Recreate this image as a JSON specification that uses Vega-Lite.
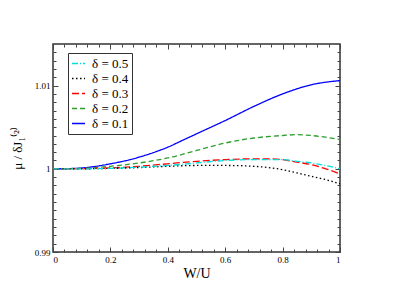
{
  "$schema": "https://vega.github.io/schema/vega-lite/v6.json",
  "width": 287,
  "height": 208,
  "autosize": "none",
  "padding": {"left": 53, "top": 44, "right": 67, "bottom": 36},
  "background": "white",
  "config": {
    "view": {"stroke": "#333333", "strokeWidth": 1.5},
    "font": "Liberation Serif",
    "axis": {"labelFont": "Liberation Serif", "titleFont": "Liberation Serif", "labelColor": "#000", "titleColor": "#000", "tickColor": "#444", "domain": false, "grid": false, "titleFontWeight": "normal"}
  },
  "data": {"values": [
    {"x": 0, "y": 1.0, "d": "δ = 0.1"},
    {"x": 0.05, "y": 1.00002, "d": "δ = 0.1"},
    {"x": 0.1, "y": 1.0001, "d": "δ = 0.1"},
    {"x": 0.15, "y": 1.0003, "d": "δ = 0.1"},
    {"x": 0.2, "y": 1.0006, "d": "δ = 0.1"},
    {"x": 0.25, "y": 1.00095, "d": "δ = 0.1"},
    {"x": 0.3, "y": 1.0014, "d": "δ = 0.1"},
    {"x": 0.35, "y": 1.00195, "d": "δ = 0.1"},
    {"x": 0.4, "y": 1.0026, "d": "δ = 0.1"},
    {"x": 0.45, "y": 1.0034, "d": "δ = 0.1"},
    {"x": 0.5, "y": 1.0042, "d": "δ = 0.1"},
    {"x": 0.6, "y": 1.0058, "d": "δ = 0.1"},
    {"x": 0.7, "y": 1.0075, "d": "δ = 0.1"},
    {"x": 0.8, "y": 1.009, "d": "δ = 0.1"},
    {"x": 0.9, "y": 1.0101, "d": "δ = 0.1"},
    {"x": 1.0, "y": 1.0106, "d": "δ = 0.1"},
    {"x": 0, "y": 1.0, "d": "δ = 0.2"},
    {"x": 0.1, "y": 1.00005, "d": "δ = 0.2"},
    {"x": 0.2, "y": 1.0003, "d": "δ = 0.2"},
    {"x": 0.3, "y": 1.0007, "d": "δ = 0.2"},
    {"x": 0.4, "y": 1.0013, "d": "δ = 0.2"},
    {"x": 0.5, "y": 1.0022, "d": "δ = 0.2"},
    {"x": 0.6, "y": 1.0031, "d": "δ = 0.2"},
    {"x": 0.7, "y": 1.0037, "d": "δ = 0.2"},
    {"x": 0.8, "y": 1.004, "d": "δ = 0.2"},
    {"x": 0.85, "y": 1.0041, "d": "δ = 0.2"},
    {"x": 0.9, "y": 1.004, "d": "δ = 0.2"},
    {"x": 0.95, "y": 1.0038, "d": "δ = 0.2"},
    {"x": 1.0, "y": 1.0035, "d": "δ = 0.2"},
    {"x": 0, "y": 1.0, "d": "δ = 0.3"},
    {"x": 0.1, "y": 1.00002, "d": "δ = 0.3"},
    {"x": 0.2, "y": 1.0001, "d": "δ = 0.3"},
    {"x": 0.3, "y": 1.0003, "d": "δ = 0.3"},
    {"x": 0.4, "y": 1.0006, "d": "δ = 0.3"},
    {"x": 0.5, "y": 1.0009, "d": "δ = 0.3"},
    {"x": 0.6, "y": 1.0011, "d": "δ = 0.3"},
    {"x": 0.7, "y": 1.0012, "d": "δ = 0.3"},
    {"x": 0.75, "y": 1.0012, "d": "δ = 0.3"},
    {"x": 0.8, "y": 1.0011, "d": "δ = 0.3"},
    {"x": 0.85, "y": 1.0008, "d": "δ = 0.3"},
    {"x": 0.9, "y": 1.0005, "d": "δ = 0.3"},
    {"x": 0.95, "y": 1.0, "d": "δ = 0.3"},
    {"x": 1.0, "y": 0.9994, "d": "δ = 0.3"},
    {"x": 0, "y": 1.0, "d": "δ = 0.4"},
    {"x": 0.1, "y": 1.0, "d": "δ = 0.4"},
    {"x": 0.2, "y": 1.00005, "d": "δ = 0.4"},
    {"x": 0.3, "y": 1.00015, "d": "δ = 0.4"},
    {"x": 0.4, "y": 1.0003, "d": "δ = 0.4"},
    {"x": 0.5, "y": 1.0004, "d": "δ = 0.4"},
    {"x": 0.6, "y": 1.0004, "d": "δ = 0.4"},
    {"x": 0.7, "y": 1.0003, "d": "δ = 0.4"},
    {"x": 0.75, "y": 1.00015, "d": "δ = 0.4"},
    {"x": 0.8, "y": 0.9999, "d": "δ = 0.4"},
    {"x": 0.85, "y": 0.9995, "d": "δ = 0.4"},
    {"x": 0.9, "y": 0.9991, "d": "δ = 0.4"},
    {"x": 0.95, "y": 0.9987, "d": "δ = 0.4"},
    {"x": 1.0, "y": 0.9982, "d": "δ = 0.4"},
    {"x": 0, "y": 1.0, "d": "δ = 0.5"},
    {"x": 0.1, "y": 1.0, "d": "δ = 0.5"},
    {"x": 0.2, "y": 1.00005, "d": "δ = 0.5"},
    {"x": 0.3, "y": 1.0002, "d": "δ = 0.5"},
    {"x": 0.4, "y": 1.0004, "d": "δ = 0.5"},
    {"x": 0.5, "y": 1.0007, "d": "δ = 0.5"},
    {"x": 0.6, "y": 1.001, "d": "δ = 0.5"},
    {"x": 0.7, "y": 1.0011, "d": "δ = 0.5"},
    {"x": 0.8, "y": 1.0011, "d": "δ = 0.5"},
    {"x": 0.85, "y": 1.0009, "d": "δ = 0.5"},
    {"x": 0.9, "y": 1.0007, "d": "δ = 0.5"},
    {"x": 0.95, "y": 1.0004, "d": "δ = 0.5"},
    {"x": 1.0, "y": 1.0, "d": "δ = 0.5"}
  ]},
  "resolve": {"axis": {"x": "independent", "y": "independent"}},
  "layer": [
    {
      "mark": {"type": "line", "interpolate": "monotone", "strokeWidth": 1.3, "clip": true},
      "encoding": {
        "x": {"field": "x", "type": "quantitative", "scale": {"domain": [0, 1], "nice": false, "zero": false},
          "axis": {"orient": "bottom", "title": "W/U", "values": [0, 0.2, 0.4, 0.6, 0.8, 1], "labelExpr": "datum.value == 0 ? '0' : datum.value == 1 ? '1' : format(datum.value, '.1f')", "tickSize": -5, "labelPadding": 8, "labelFontSize": 9, "titleFontSize": 14, "titlePadding": 2}},
        "y": {"field": "y", "type": "quantitative", "scale": {"domain": [0.99, 1.015], "nice": false, "zero": false},
          "axis": {"orient": "left", "title": "μ / δJ₁⁽²⁾", "values": [0.99, 1.0, 1.01], "labelExpr": "datum.value == 1 ? '1' : format(datum.value, '.2f')", "tickSize": -5, "labelPadding": 8, "labelFontSize": 9, "titleFontSize": 13, "titlePadding": 10}},
        "color": {"field": "d", "type": "nominal",
          "scale": {"domain": ["δ = 0.5", "δ = 0.4", "δ = 0.3", "δ = 0.2", "δ = 0.1"], "range": ["#00dede", "#000000", "#ff0000", "#2e9e2e", "#0000ff"]},
          "legend": {"orient": "none", "legendX": 15, "legendY": 9, "title": null, "labelFont": "Liberation Serif", "labelFontSize": 13, "labelColor": "#000", "symbolType": "stroke", "symbolSize": 169, "symbolStrokeWidth": 1.5, "strokeColor": "#333", "padding": 3, "rowPadding": 0, "labelOffset": 6, "fillColor": "white"}},
        "strokeDash": {"field": "d", "type": "nominal",
          "scale": {"domain": ["δ = 0.5", "δ = 0.4", "δ = 0.3", "δ = 0.2", "δ = 0.1"], "range": [[6, 2, 1, 2], [1.5, 2.5], [7, 3], [5, 3], [1, 0]]},
          "legend": null}
      }
    },
    {
      "mark": {"type": "line", "opacity": 0},
      "encoding": {
        "x": {"field": "x", "type": "quantitative", "axis": {"orient": "bottom", "title": null, "labels": false, "tickSize": -3, "values": [0.04, 0.08, 0.12, 0.16, 0.24, 0.28, 0.32, 0.36, 0.44, 0.48, 0.52, 0.56, 0.64, 0.68, 0.72, 0.76, 0.84, 0.88, 0.92, 0.96]}},
        "y": {"field": "y", "type": "quantitative", "axis": {"orient": "left", "title": null, "labels": false, "tickSize": -3, "values": [0.991, 0.992, 0.993, 0.994, 0.995, 0.996, 0.997, 0.998, 0.999, 1.001, 1.002, 1.003, 1.004, 1.005, 1.006, 1.007, 1.008, 1.009, 1.011, 1.012, 1.013, 1.014]}},
        "detail": {"field": "d"}
      }
    },
    {
      "mark": {"type": "line", "opacity": 0},
      "encoding": {
        "x": {"field": "x", "type": "quantitative", "axis": {"orient": "top", "title": null, "labels": false, "tickSize": -5, "values": [0, 0.2, 0.4, 0.6, 0.8, 1]}},
        "y": {"field": "y", "type": "quantitative", "axis": {"orient": "right", "title": null, "labels": false, "tickSize": -5, "values": [0.99, 1.0, 1.01]}},
        "detail": {"field": "d"}
      }
    },
    {
      "mark": {"type": "line", "opacity": 0},
      "encoding": {
        "x": {"field": "x", "type": "quantitative", "axis": {"orient": "top", "title": null, "labels": false, "tickSize": -3, "values": [0.04, 0.08, 0.12, 0.16, 0.24, 0.28, 0.32, 0.36, 0.44, 0.48, 0.52, 0.56, 0.64, 0.68, 0.72, 0.76, 0.84, 0.88, 0.92, 0.96]}},
        "y": {"field": "y", "type": "quantitative", "axis": {"orient": "right", "title": null, "labels": false, "tickSize": -3, "values": [0.991, 0.992, 0.993, 0.994, 0.995, 0.996, 0.997, 0.998, 0.999, 1.001, 1.002, 1.003, 1.004, 1.005, 1.006, 1.007, 1.008, 1.009, 1.011, 1.012, 1.013, 1.014]}},
        "detail": {"field": "d"}
      }
    }
  ]
}
